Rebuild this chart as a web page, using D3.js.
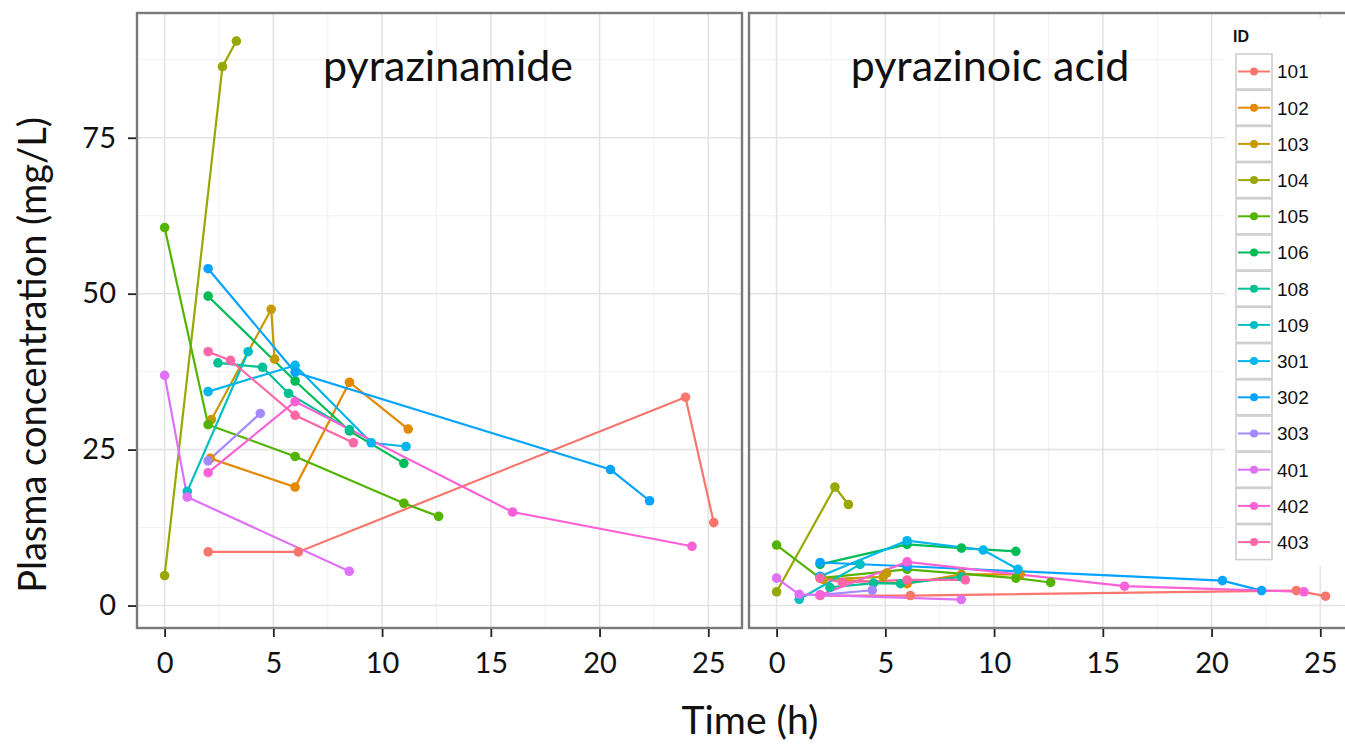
<!DOCTYPE html>
<html>
<head>
<meta charset="utf-8">
<script src="https://cdn.jsdelivr.net/npm/d3@7"></script>
<style>
  body { margin: 0; background: #fff; }
  text { fill: #111; }
</style>
</head>
<body>
<svg id="chart" width="1345" height="745"></svg>
<script>
var ids = ['101', '102', '103', '104', '105', '106', '108', '109', '301', '302', '303', '401', '402', '403'];
var panels = ['pyrazinamide', 'pyrazinoic acid'];
var xTicks = [0, 5, 10, 15, 20, 25];
var yTicks = [0, 25, 50, 75];

// [ID, time (h), concentration (mg/L)] -- pyrazinamide
var pzaRows = [
  ['101', 2, 8.6], ['101', 6.15, 8.6], ['101', 23.95, 33.4], ['101', 25.25, 13.3],
  ['102', 2.1, 23.6], ['102', 6, 19.0], ['102', 8.5, 35.8], ['102', 11.2, 28.3],
  ['103', 2.15, 29.8], ['103', 4.9, 47.5], ['103', 5.06, 39.5],
  ['104', 0, 4.8], ['104', 2.66, 86.4], ['104', 3.3, 90.5],
  ['105', 0, 60.6], ['105', 2, 29.0], ['105', 6, 23.9], ['105', 11, 16.4], ['105', 12.6, 14.3],
  ['106', 2, 49.6], ['106', 6, 36.0], ['106', 8.5, 28.0], ['106', 11, 22.8],
  ['108', 2.45, 38.9], ['108', 4.5, 38.2], ['108', 5.7, 34.0], ['108', 8.5, 28.2],
  ['109', 1.04, 18.3], ['109', 3.84, 40.7],
  ['301', 2, 34.3], ['301', 6, 38.5], ['301', 9.5, 26.1], ['301', 11.1, 25.5],
  ['302', 2, 54.0], ['302', 6, 37.4], ['302', 20.5, 21.8], ['302', 22.3, 16.8],
  ['303', 2, 23.2], ['303', 4.4, 30.8],
  ['401', 0, 36.9], ['401', 1.04, 17.4], ['401', 8.49, 5.5],
  ['402', 2, 21.3], ['402', 6, 32.7], ['402', 16, 15.0], ['402', 24.25, 9.5],
  ['403', 2, 40.7], ['403', 3.03, 39.3], ['403', 6, 30.5], ['403', 8.68, 26.1]
];

// [ID, time (h), concentration (mg/L)] -- pyrazinoic acid
var poaRows = [
  ['101', 2, 1.6], ['101', 6.15, 1.6], ['101', 23.9, 2.4], ['101', 25.24, 1.5],
  ['102', 2.1, 4.3], ['102', 6, 3.5], ['102', 8.5, 5.0], ['102', 11.2, 5.0],
  ['103', 2.15, 4.2], ['103', 4.9, 4.6], ['103', 5.06, 5.2],
  ['104', 0, 2.2], ['104', 2.68, 19.0], ['104', 3.3, 16.2],
  ['105', 0, 9.7], ['105', 2, 4.4], ['105', 6, 5.8], ['105', 11, 4.4], ['105', 12.6, 3.7],
  ['106', 2, 6.6], ['106', 6, 9.8], ['106', 8.5, 9.2], ['106', 11, 8.7],
  ['108', 2.45, 2.9], ['108', 4.45, 3.6], ['108', 5.7, 3.5], ['108', 8.5, 4.6],
  ['109', 1.04, 1.0], ['109', 3.84, 6.6],
  ['301', 2, 4.7], ['301', 6, 10.4], ['301', 9.5, 8.9], ['301', 11.1, 5.8],
  ['302', 2, 6.9], ['302', 6, 6.3], ['302', 20.5, 4.0], ['302', 22.3, 2.4],
  ['303', 2, 1.7], ['303', 4.4, 2.45],
  ['401', 0, 4.4], ['401', 1.04, 1.8], ['401', 8.49, 0.96],
  ['402', 2, 1.7], ['402', 6, 7.0], ['402', 16, 3.1], ['402', 24.25, 2.2],
  ['403', 2, 4.4], ['403', 3.03, 3.7], ['403', 6, 4.1], ['403', 8.68, 4.1]
];

// ggplot2 default hue palette for 14 levels
var palette = ['#F8766D', '#E38900', '#C49A00', '#99A800', '#53B400', '#00BC56', '#00C094',
               '#00BFC4', '#00B6EB', '#06A4FF', '#A58AFF', '#DF70F8', '#FB61D7', '#FF66A8'];
var color = d3.scaleOrdinal().domain(ids).range(palette);

var svg = d3.select('#chart');
var panelTop = 13, panelBottom = 628, panelW = 605;
var panelX = [137, 749];
var font = 'Lato, "Open Sans", sans-serif';

var x = d3.scaleLinear().domain([-1.27, 26.55]).range([0, panelW]);
var y = d3.scaleLinear().domain([-3.6, 95]).range([panelBottom, panelTop]);

var xMinor = d3.range(2.5, 26, 5);
var yMinor = d3.range(12.5, 95, 25);

svg.append('clipPath').attr('id', 'clip')
  .append('rect')
  .attr('x', 0).attr('y', panelTop)
  .attr('width', panelW).attr('height', panelBottom - panelTop);

[pzaRows, poaRows].forEach(function(rows, p) {
  var g = svg.append('g')
    .attr('transform', 'translate(' + panelX[p] + ',0)');

  // Grid
  var grid = g.append('g').attr('clip-path', 'url(#clip)');
  grid.selectAll('line.vmin').data(xMinor).enter().append('line')
    .attr('x1', x).attr('x2', x).attr('y1', panelTop).attr('y2', panelBottom)
    .attr('stroke', '#f1f1f1').attr('stroke-width', 1);
  grid.selectAll('line.hmin').data(yMinor).enter().append('line')
    .attr('y1', y).attr('y2', y).attr('x1', 0).attr('x2', panelW)
    .attr('stroke', '#f1f1f1').attr('stroke-width', 1);
  grid.selectAll('line.vmaj').data(xTicks).enter().append('line')
    .attr('x1', x).attr('x2', x).attr('y1', panelTop).attr('y2', panelBottom)
    .attr('stroke', '#e4e4e4').attr('stroke-width', 1.6);
  grid.selectAll('line.hmaj').data(yTicks).enter().append('line')
    .attr('y1', y).attr('y2', y).attr('x1', 0).attr('x2', panelW)
    .attr('stroke', '#e4e4e4').attr('stroke-width', 1.6);

  // Series
  var series = Array.from(d3.group(rows, function(d) { return d[0]; }), function(e) {
    return {id: e[0], values: e[1].slice().sort(function(a, b) { return a[1] - b[1]; })};
  });
  series.sort(function(a, b) { return ids.indexOf(a.id) - ids.indexOf(b.id); });

  var line = d3.line()
    .x(function(d) { return x(d[1]); })
    .y(function(d) { return y(d[2]); });

  var marks = g.append('g').attr('clip-path', 'url(#clip)');
  marks.selectAll('path.series').data(series).enter().append('path')
    .attr('class', 'series')
    .attr('d', function(s) { return line(s.values); })
    .attr('fill', 'none')
    .attr('stroke', function(s) { return color(s.id); })
    .attr('stroke-width', 2.2);

  marks.selectAll('circle').data(rows).enter().append('circle')
    .attr('cx', function(d) { return x(d[1]); })
    .attr('cy', function(d) { return y(d[2]); })
    .attr('r', 4.8)
    .attr('fill', function(d) { return color(d[0]); });

  // Panel border
  g.append('rect')
    .attr('x', 0).attr('y', panelTop)
    .attr('width', panelW).attr('height', panelBottom - panelTop)
    .attr('fill', 'none').attr('stroke', '#7a7a7a').attr('stroke-width', 2.4);

  // X axis
  var xAxis = g.append('g')
    .attr('transform', 'translate(0,' + (panelBottom + 1) + ')')
    .call(d3.axisBottom(x).tickValues(xTicks).tickSize(8).tickPadding(15));
  xAxis.select('.domain').remove();
  xAxis.selectAll('line').attr('stroke', '#222').attr('stroke-width', 1.8);
  xAxis.selectAll('text').attr('fill', '#111')
    .style('font-family', font).style('font-size', '29px');

  if (p === 0) {
    var yAxis = g.append('g')
      .attr('transform', 'translate(-1,0)')
      .call(d3.axisLeft(y).tickValues(yTicks).tickSize(8).tickPadding(12));
    yAxis.select('.domain').remove();
    yAxis.selectAll('line').attr('stroke', '#222').attr('stroke-width', 1.8);
    yAxis.selectAll('text').attr('fill', '#111')
      .style('font-family', font).style('font-size', '29px');
  }
});

// Panel titles (annotations)
svg.append('text')
  .attr('x', 448).attr('y', 81)
  .attr('text-anchor', 'middle')
  .style('font-family', font).style('font-size', '43px')
  .text(panels[0]);
svg.append('text')
  .attr('x', 990).attr('y', 81)
  .attr('text-anchor', 'middle')
  .style('font-family', font).style('font-size', '43px')
  .text(panels[1]);

// Axis titles
svg.append('text')
  .attr('transform', 'translate(46,355) rotate(-90)')
  .attr('text-anchor', 'middle')
  .style('font-family', font).style('font-size', '38px')
  .text('Plasma concentration (mg/L)');
svg.append('text')
  .attr('x', 750).attr('y', 734)
  .attr('text-anchor', 'middle')
  .style('font-family', font).style('font-size', '39px')
  .text('Time (h)');

// Legend
var legend = svg.append('g');
legend.append('rect')
  .attr('x', 1225).attr('y', 18).attr('width', 120).attr('height', 548)
  .attr('fill', '#fff');
legend.append('text')
  .attr('x', 1233).attr('y', 42)
  .style('font-family', '"Liberation Sans", Arial, sans-serif')
  .style('font-size', '16px').style('font-weight', 'bold')
  .text('ID');

var keys = legend.selectAll('g.key').data(ids).enter().append('g')
  .attr('class', 'key')
  .attr('transform', function(d, i) { return 'translate(1236,' + (54 + i * 36.2) + ')'; });
keys.append('rect')
  .attr('width', 36).attr('height', 35)
  .attr('fill', '#fff').attr('stroke', '#cfcfcf').attr('stroke-width', 1.6);
keys.append('line')
  .attr('x1', 2).attr('x2', 34).attr('y1', 17.5).attr('y2', 17.5)
  .attr('stroke', color).attr('stroke-width', 2);
keys.append('circle')
  .attr('cx', 18).attr('cy', 17.5).attr('r', 4)
  .attr('fill', color);
keys.append('text')
  .attr('x', 41).attr('y', 17.5).attr('dy', '0.36em')
  .style('font-family', '"Liberation Sans", Arial, sans-serif')
  .style('font-size', '19px')
  .text(function(d) { return d; });
</script>
</body>
</html>
